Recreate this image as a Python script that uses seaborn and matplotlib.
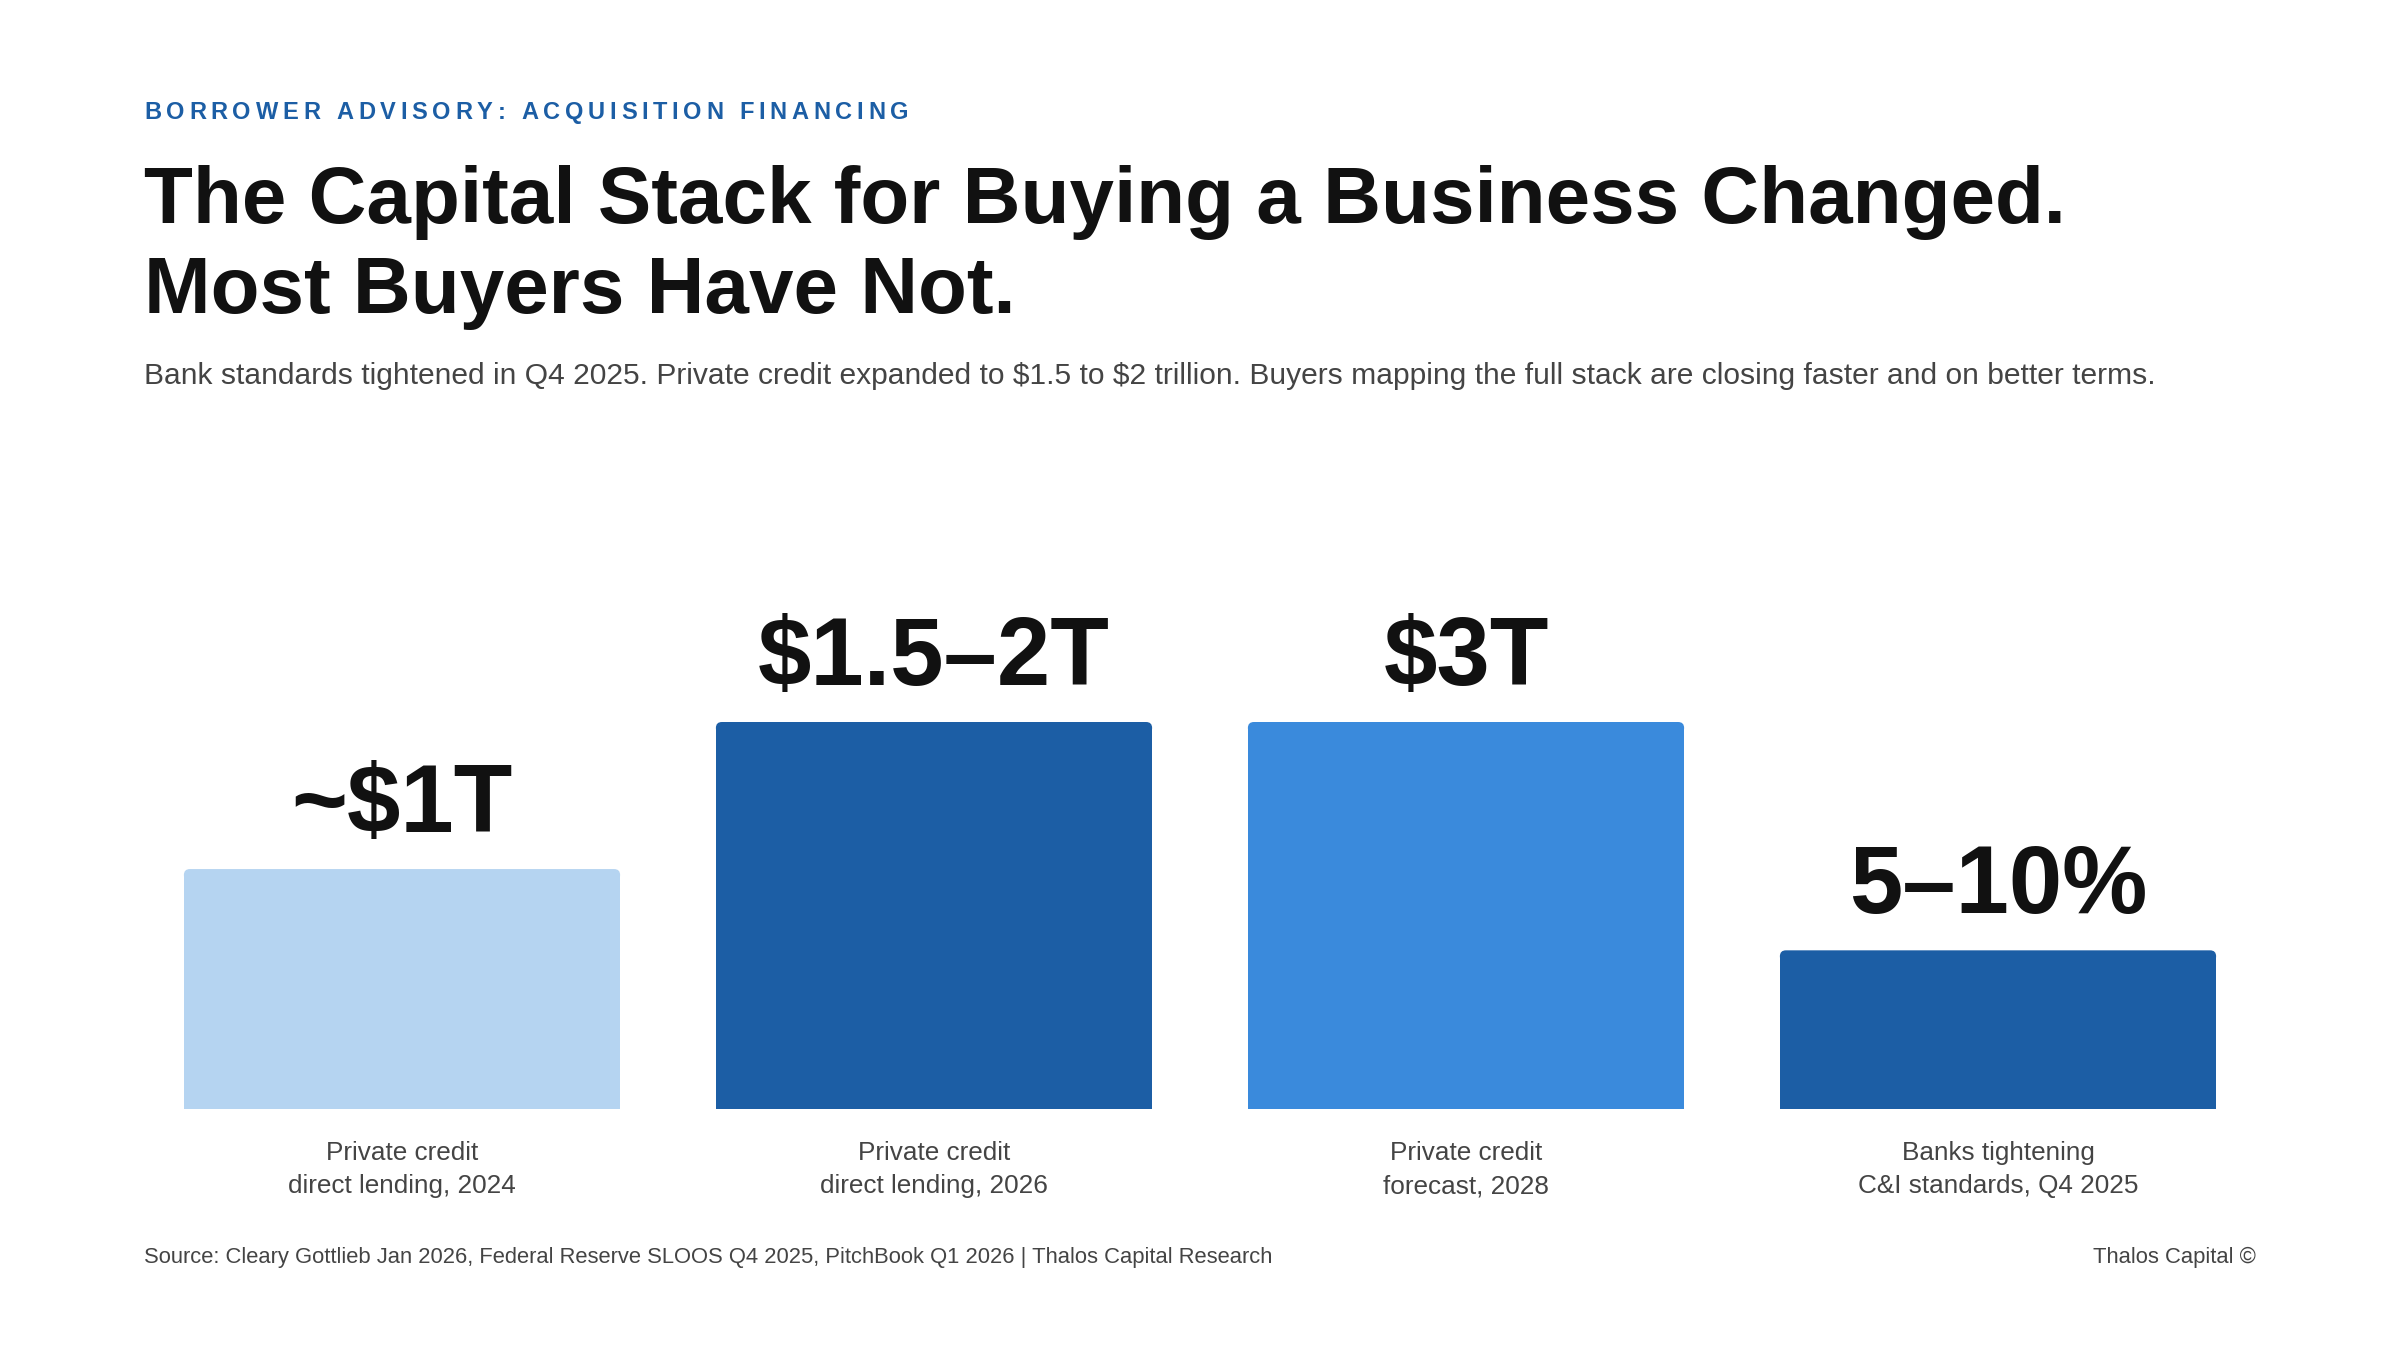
import numpy as np
import pandas as pd
import matplotlib.pyplot as plt
import seaborn as sns
from matplotlib.patches import FancyBboxPatch
from matplotlib.font_manager import findfont, FontProperties
from matplotlib.ft2font import FT2Font

# datos
categories = [
    "Private credit\ndirect lending, 2024",
    "Private credit\ndirect lending, 2026",
    "Private credit\nforecast, 2028",
    "Banks tightening\nC&I standards, Q4 2025",
]
value_labels = ["~$1T", "$1.5–2T", "$3T", "5–10%"]
bar_heights = [62, 100, 100, 41]
bar_colors = ["#b5d4f1", "#1c5ea5", "#3a8adc", "#1c5ea5"]

kicker = "BORROWER ADVISORY: ACQUISITION FINANCING"
title_lines = [
    "The Capital Stack for Buying a Business Changed.",
    "Most Buyers Have Not.",
]
subtitle = ("Bank standards tightened in Q4 2025. Private credit expanded to $1.5 to $2 trillion. "
            "Buyers mapping the full stack are closing faster and on better terms.")
source = ("Source: Cleary Gottlieb Jan 2026, Federal Reserve SLOOS Q4 2025, "
          "PitchBook Q1 2026 | Thalos Capital Research")
brand = "Thalos Capital ©"

sns.set_theme(style="white")
plt.rcParams['font.family'] = ['Liberation Sans', 'DejaVu Sans']

W, H = 2400, 1350
fig = plt.figure(figsize=(24, 13.5), dpi=100)
fig.patch.set_facecolor("white")

def fx(px):
    return px / W

def fy(px):
    return 1 - px / H

ax = fig.add_axes([fx(136), fy(1109), 2128 / W, 387 / H])

df = pd.DataFrame({"cat": categories, "height": bar_heights})
sns.barplot(data=df, x="cat", y="height", hue="cat", palette=bar_colors,
            saturation=1, width=0.82, ax=ax, legend=False, linewidth=0)

ax.set_xlim(-0.5, 3.5)
ax.set_ylim(0, 100)
sns.despine(ax=ax, left=True, bottom=True)
ax.set_yticks([])
ax.set_xlabel("")
ax.set_ylabel("")
ax.tick_params(axis="x", length=0, pad=23, labelsize=18.8, labelcolor="#444444")
for lab in ax.get_xticklabels():
    lab.set_linespacing(1.5)

# esquinas superiores redondeadas
rx = 6 / 532
ry = 6 / 3.87
for p in list(ax.patches):
    p.set_linewidth(0)
    p.set_edgecolor("none")
    x0, w, h = p.get_x(), p.get_width(), p.get_height()
    p.set_height(h - ry)
    top = FancyBboxPatch((x0, h - 2 * ry), w, 2 * ry,
                         boxstyle=f"round,pad=0,rounding_size={rx}",
                         mutation_aspect=ry / rx, facecolor=p.get_facecolor(),
                         edgecolor="none", linewidth=0)
    ax.add_patch(top)

# etiquetas de valor
for i, (h, lab) in enumerate(zip(bar_heights, value_labels)):
    ax.annotate(lab, (i, h), xytext=(0, 26.6), textcoords="offset points",
                ha="center", va="baseline", fontsize=69, fontweight="bold",
                color="#111111", annotation_clip=False, parse_math=False)

# kicker con espaciado entre letras
k_size = 17
k_font = FT2Font(findfont(FontProperties(family="Liberation Sans", weight="bold")))
k_font.set_size(k_size, 100)
x = 144
spacing = 0.2 * k_size * 100 / 72
for ch in kicker:
    fig.text(fx(x), fy(119), ch, fontsize=k_size, fontweight="bold",
             color="#1c5ea5", va="baseline", ha="left")
    g = k_font.load_char(ord(ch))
    x += g.linearHoriAdvance / 65536 + spacing

# titulo
for ln, base in zip(title_lines, [223, 313]):
    fig.text(fx(144), fy(base), ln, fontsize=57.6, fontweight="bold",
             color="#111111", va="baseline", ha="left")

fig.text(fx(144), fy(384), subtitle, fontsize=21.6, color="#444444",
         va="baseline", ha="left", parse_math=False)

fig.text(fx(144), fy(1263), source, fontsize=15.8, color="#444444",
         va="baseline", ha="left")
fig.text(fx(2256), fy(1263), brand, fontsize=15.8, color="#444444",
         va="baseline", ha="right")

fig.savefig("out.png", dpi=100, facecolor="white")
